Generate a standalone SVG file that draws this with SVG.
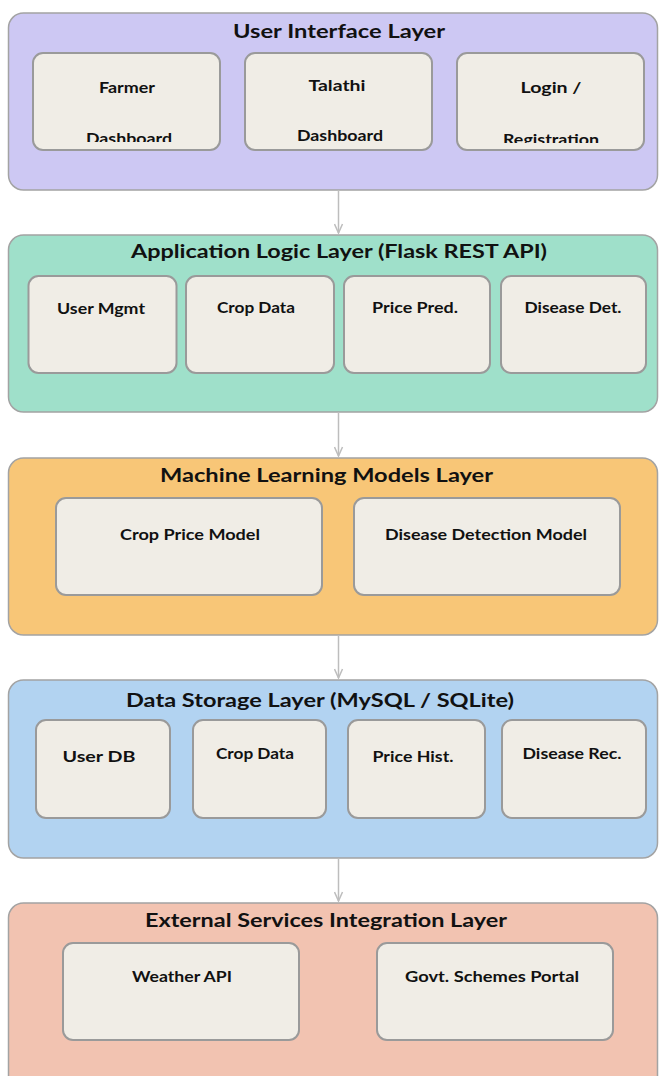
<svg xmlns="http://www.w3.org/2000/svg" width="659" height="1076" viewBox="0 0 659 1076">
<style>
.layer{stroke:#a3a3a3;stroke-width:1.5}
.l1{fill:#cdc8f3}.l2{fill:#9fe0ca}.l3{fill:#f8c677}.l4{fill:#b2d3f1}.l5{fill:#f2c3b1}
.box{fill:#f0ede6;stroke:#9a9a9a;stroke-width:2}
.title{font-family:Lato,"Open Sans","Liberation Sans",sans-serif;font-weight:700;font-size:19px;fill:#111;text-anchor:middle}
.lbl{font-family:Lato,"Open Sans","Liberation Sans",sans-serif;font-weight:700;font-size:15.5px;fill:#111;text-anchor:middle}
.conn{stroke:#bdbdbd;stroke-width:1.5;fill:none}
</style>
<defs>
<marker id="arr" markerWidth="11" markerHeight="10" refX="10" refY="5" orient="auto" markerUnits="userSpaceOnUse" viewBox="0 0 11 10">
<path d="M1,1 L10,5 L1,9" fill="none" stroke="#bdbdbd" stroke-width="1.5"/>
</marker>
<clipPath id="c1"><rect x="0" y="0" width="659" height="142"/></clipPath>
<clipPath id="c3"><rect x="0" y="0" width="659" height="143"/></clipPath>
</defs>
<rect width="659" height="1076" fill="#ffffff"/>

<g id="layer-ui">
<rect class="layer l1" x="8.5" y="13" width="649" height="177" rx="15"/>
<text class="title" x="339" y="38" textLength="212" lengthAdjust="spacingAndGlyphs">User Interface Layer</text>
<g id="farmer-dashboard">
<rect class="box" x="33" y="53" width="187" height="97" rx="10"/>
<text class="lbl" x="127" y="93" textLength="56" lengthAdjust="spacingAndGlyphs">Farmer</text>
<text class="lbl" x="129" y="144" textLength="86" lengthAdjust="spacingAndGlyphs" clip-path="url(#c1)">Dashboard</text>
</g>
<g id="talathi-dashboard">
<rect class="box" x="245" y="53" width="187" height="97" rx="10"/>
<text class="lbl" x="337" y="91" textLength="57" lengthAdjust="spacingAndGlyphs">Talathi</text>
<text class="lbl" x="340" y="141" textLength="86" lengthAdjust="spacingAndGlyphs">Dashboard</text>
</g>
<g id="login-registration">
<rect class="box" x="457" y="53" width="187" height="97" rx="10"/>
<text class="lbl" x="551" y="93" textLength="61" lengthAdjust="spacingAndGlyphs">Login /</text>
<text class="lbl" x="551" y="145" textLength="96" lengthAdjust="spacingAndGlyphs" clip-path="url(#c3)">Registration</text>
</g>
</g>

<g id="layer-app">
<rect class="layer l2" x="8.5" y="235" width="649" height="177" rx="15"/>
<text class="title" x="339" y="258" textLength="416" lengthAdjust="spacingAndGlyphs">Application Logic Layer (Flask REST API)</text>
<g id="user-mgmt">
<rect class="box" x="28.5" y="276" width="148" height="97" rx="10"/>
<text class="lbl" x="101" y="314" textLength="88" lengthAdjust="spacingAndGlyphs">User Mgmt</text>
</g>
<g id="crop-data-api">
<rect class="box" x="186" y="276" width="148" height="97" rx="10"/>
<text class="lbl" x="256" y="313" textLength="78" lengthAdjust="spacingAndGlyphs">Crop Data</text>
</g>
<g id="price-pred">
<rect class="box" x="344" y="276" width="146" height="97" rx="10"/>
<text class="lbl" x="415" y="313" textLength="86" lengthAdjust="spacingAndGlyphs">Price Pred.</text>
</g>
<g id="disease-det">
<rect class="box" x="501" y="276" width="145" height="97" rx="10"/>
<text class="lbl" x="573" y="313" textLength="97" lengthAdjust="spacingAndGlyphs">Disease Det.</text>
</g>
</g>

<g id="layer-ml">
<rect class="layer l3" x="8.5" y="458" width="649" height="177" rx="15"/>
<text class="title" x="326.5" y="482" textLength="333" lengthAdjust="spacingAndGlyphs">Machine Learning Models Layer</text>
<g id="crop-price-model">
<rect class="box" x="56" y="498" width="266" height="97" rx="10"/>
<text class="lbl" x="190" y="540" textLength="140" lengthAdjust="spacingAndGlyphs">Crop Price Model</text>
</g>
<g id="disease-detection-model">
<rect class="box" x="354" y="498" width="266" height="97" rx="10"/>
<text class="lbl" x="486" y="540" textLength="202" lengthAdjust="spacingAndGlyphs">Disease Detection Model</text>
</g>
</g>

<g id="layer-storage">
<rect class="layer l4" x="8.5" y="680" width="649" height="178" rx="15"/>
<text class="title" x="320" y="707" textLength="388" lengthAdjust="spacingAndGlyphs">Data Storage Layer (MySQL / SQLite)</text>
<g id="user-db">
<rect class="box" x="36" y="720" width="134" height="98" rx="10"/>
<text class="lbl" x="99" y="762" textLength="73" lengthAdjust="spacingAndGlyphs">User DB</text>
</g>
<g id="crop-data-db">
<rect class="box" x="193" y="720" width="133" height="98" rx="10"/>
<text class="lbl" x="255" y="759" textLength="78" lengthAdjust="spacingAndGlyphs">Crop Data</text>
</g>
<g id="price-hist">
<rect class="box" x="348" y="720" width="137" height="98" rx="10"/>
<text class="lbl" x="413" y="762" textLength="81" lengthAdjust="spacingAndGlyphs">Price Hist.</text>
</g>
<g id="disease-rec">
<rect class="box" x="502" y="720" width="144" height="98" rx="10"/>
<text class="lbl" x="572" y="759" textLength="99" lengthAdjust="spacingAndGlyphs">Disease Rec.</text>
</g>
</g>

<g id="layer-external">
<rect class="layer l5" x="8.5" y="903" width="649" height="190" rx="15"/>
<text class="title" x="326" y="927" textLength="362" lengthAdjust="spacingAndGlyphs">External Services Integration Layer</text>
<g id="weather-api">
<rect class="box" x="63" y="943" width="236" height="97" rx="10"/>
<text class="lbl" x="182" y="982" textLength="100" lengthAdjust="spacingAndGlyphs">Weather API</text>
</g>
<g id="govt-schemes">
<rect class="box" x="377" y="943" width="236" height="97" rx="10"/>
<text class="lbl" x="492" y="982" textLength="174" lengthAdjust="spacingAndGlyphs">Govt. Schemes Portal</text>
</g>
</g>

<g id="connectors">
<line class="conn" x1="338.5" y1="190" x2="338.5" y2="233" marker-end="url(#arr)"/>
<line class="conn" x1="338.5" y1="412" x2="338.5" y2="456" marker-end="url(#arr)"/>
<line class="conn" x1="338.5" y1="635" x2="338.5" y2="678" marker-end="url(#arr)"/>
<line class="conn" x1="338.5" y1="858" x2="338.5" y2="901" marker-end="url(#arr)"/>
</g>
</svg>
